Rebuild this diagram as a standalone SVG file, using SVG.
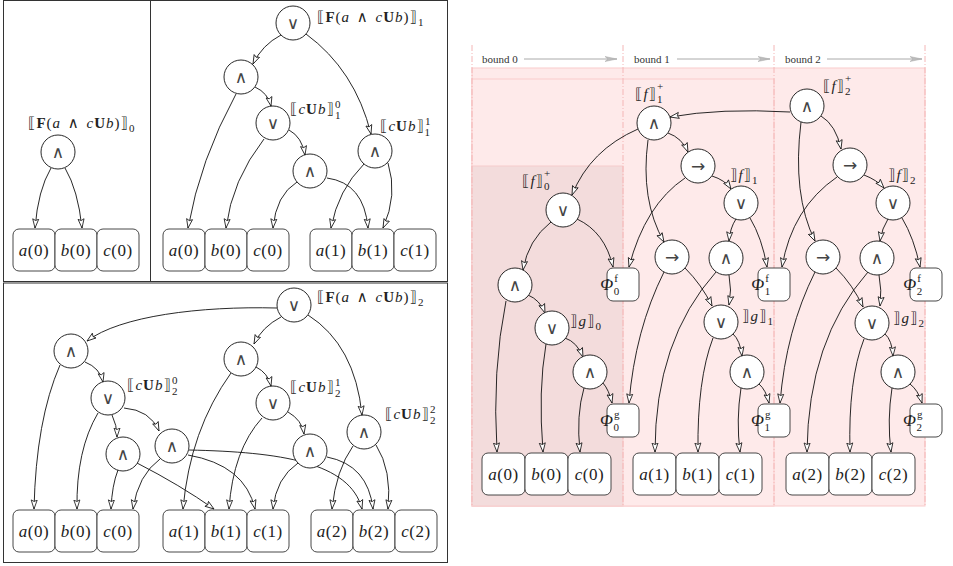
<svg xmlns="http://www.w3.org/2000/svg" width="953" height="566" viewBox="0 0 953 566">
<style>
.n circle{fill:#fff;stroke:#111;stroke-width:0.9}
.n text{font-family:"DejaVu Sans ExtraLight","DejaVu Sans","Liberation Sans",sans-serif;font-size:17px;text-anchor:middle;fill:#444}
.bx rect{fill:#fff;stroke:#333;stroke-width:0.9}
.bx text{font-family:"Liberation Serif","DejaVu Serif",serif;font-size:17px;text-anchor:middle;fill:#222;letter-spacing:0.5px}
.ph text{font-family:"Liberation Serif","DejaVu Serif",serif;font-size:17px;fill:#222}
.i{font-style:italic}
.bf{font-weight:bold}
.s{font-size:11px;font-style:normal}
.bk{font-family:"DejaVu Sans","Liberation Sans",sans-serif;font-weight:normal;fill:#333}
.lb{font-family:"Liberation Serif","DejaVu Serif",serif;font-size:15px;fill:#222;letter-spacing:1px;word-spacing:2px}
.e path{fill:none;stroke:#111;stroke-width:0.9;marker-end:url(#ah)}
.frame{fill:none;stroke:#333;stroke-width:1}
.dd{stroke:#f4b6b6;stroke-width:1;stroke-dasharray:6 2 1 2}
.bd{font-family:"Liberation Serif","DejaVu Serif",serif;font-size:11px;fill:#333}
.ba{stroke:#aaa;stroke-width:1;marker-end:url(#ga)}
</style>
<defs>
<marker id="ah" markerUnits="userSpaceOnUse" markerWidth="10" markerHeight="8" viewBox="0 0 10 8" refX="9.5" refY="4" orient="auto">
<path d="M0.5,1 L9.5,4 L0.5,7 L2,4 Z" fill="#fff" stroke="#111" stroke-width="0.8"/>
</marker>
<marker id="ga" markerUnits="userSpaceOnUse" markerWidth="12" markerHeight="6" viewBox="0 0 12 6" refX="12" refY="3" orient="auto">
<path d="M0,0.5 L12,3 L0,5.5 L3,3 Z" fill="#bbb" stroke="#aaa" stroke-width="0.5"/>
</marker>
</defs>
<rect width="953" height="566" fill="#fff"/>

<!-- frames -->
<rect class="frame" x="3.5" y="0.5" width="147" height="281"/>
<rect class="frame" x="150.5" y="0.5" width="297" height="281"/>
<rect class="frame" x="3.5" y="283" width="444" height="279.5"/>

<!-- right background -->
<rect x="472" y="68" width="453" height="438" fill="#feeaea" stroke="#f9cccc"/>
<rect x="472" y="79" width="302" height="427" fill="#feeaea" stroke="#f9cccc"/>
<rect x="472" y="166" width="151" height="340" fill="#f3dcdc" stroke="#f6cccc"/>
<line class="dd" x1="472" y1="45" x2="472" y2="506"/>
<line class="dd" x1="623" y1="45" x2="623" y2="506"/>
<line class="dd" x1="774" y1="45" x2="774" y2="506"/>
<line class="dd" x1="925" y1="45" x2="925" y2="506"/>
<text class="bd" x="482" y="63">bound 0</text>
<line class="ba" x1="524" y1="59" x2="617" y2="59"/>
<text class="bd" x="634" y="63">bound 1</text>
<line class="ba" x1="677" y1="59" x2="770" y2="59"/>
<text class="bd" x="785" y="63">bound 2</text>
<line class="ba" x1="827" y1="59" x2="922" y2="59"/>

<!-- connectors -->
<g id="connectors" class="e">
<path d="M51,168 Q38,190 35,228"/>
<path d="M65,168 Q78,190 82,228"/>
<path d="M281,35 Q262,45 253,64"/>
<path d="M306,34 Q355,70 371,134"/>
<path d="M255,87 Q268,93 271,106"/>
<path d="M236,94 Q200,160 188,228"/>
<path d="M264,139 Q232,180 226,228"/>
<path d="M289,130 Q302,137 305,155"/>
<path d="M297,182 Q276,195 273,228"/>
<path d="M327,178 Q364,183 368,228"/>
<path d="M364,164 Q338,190 331,228"/>
<path d="M388,163 Q398,195 383,228"/>
<path d="M277,308 C200,306 120,316 87,341"/>
<path d="M281,317 Q262,327 254,344"/>
<path d="M308,315 Q355,345 362,415"/>
<path d="M85,362 Q100,368 103,382"/>
<path d="M60,365 Q36,420 34,509"/>
<path d="M98,413 Q76,450 77,509"/>
<path d="M112,415 Q117,425 117,437"/>
<path d="M124,408 Q150,410 159,431"/>
<path d="M118,470 Q112,485 111,509"/>
<path d="M137,463 Q180,485 214,509"/>
<path d="M160,459 Q138,475 133,509"/>
<path d="M188,455 Q245,465 255,509"/>
<path d="M189,450 C280,452 350,462 362,509"/>
<path d="M231,373 Q190,430 183,509"/>
<path d="M256,367 Q268,373 271,386"/>
<path d="M262,418 Q233,450 229,509"/>
<path d="M288,412 Q302,420 304,434"/>
<path d="M298,463 Q276,478 273,509"/>
<path d="M327,457 Q368,465 373,509"/>
<path d="M353,446 Q336,470 332,509"/>
<path d="M376,445 Q392,470 388,509"/>
<path d="M551,222 Q528,240 523,270"/>
<path d="M577,219 Q605,232 613,267"/>
<path d="M638,129 Q590,150 572,195"/>
<path d="M528,295 Q540,300 545,313"/>
<path d="M506,301 Q492,370 497,452"/>
<path d="M546,344 Q538,390 543,452"/>
<path d="M565,338 Q577,342 583,357"/>
<path d="M584,388 Q576,415 580,452"/>
<path d="M603,383 Q609,390 612,403"/>
<path d="M668,133 Q682,138 688,152"/>
<path d="M648,140 Q640,200 664,242"/>
<path d="M685,178 Q645,205 629,267"/>
<path d="M712,176 Q725,180 731,189"/>
<path d="M736,219 Q730,228 729,241"/>
<path d="M750,218 Q762,238 767,267"/>
<path d="M664,272 Q635,330 629,403"/>
<path d="M685,268 Q702,285 712,306"/>
<path d="M729,275 Q732,290 729,305"/>
<path d="M716,272 Q655,340 655,452"/>
<path d="M713,338 Q697,380 698,452"/>
<path d="M733,334 Q740,340 742,356"/>
<path d="M741,388 Q736,420 740,452"/>
<path d="M759,384 Q766,390 769,403"/>
<path d="M790,112 Q720,108 670,117"/>
<path d="M821,116 Q836,125 841,149"/>
<path d="M801,122 Q792,195 815,241"/>
<path d="M837,177 Q792,208 782,267"/>
<path d="M864,175 Q877,180 884,188"/>
<path d="M888,219 Q882,228 880,241"/>
<path d="M902,218 Q914,238 920,267"/>
<path d="M815,272 Q786,330 780,403"/>
<path d="M836,268 Q853,285 863,307"/>
<path d="M879,275 Q882,290 880,306"/>
<path d="M868,272 Q808,340 807,452"/>
<path d="M864,339 Q848,380 850,452"/>
<path d="M885,334 Q892,340 893,356"/>
<path d="M892,388 Q887,420 891,452"/>
<path d="M910,384 Q918,390 922,403"/>
</g>

<!-- ===== top-left panel ===== -->
<g id="tl_and" class="n"><circle cx="58" cy="152" r="17"/><text x="58" y="158">∧</text></g>
<text class="lb" x="28" y="128"><tspan class="bk">⟦</tspan><tspan class="bf">F</tspan>(<tspan class="i">a</tspan> ∧ <tspan class="i">c</tspan><tspan class="bf">U</tspan><tspan class="i">b</tspan>)<tspan class="bk">⟧</tspan><tspan class="s" dy="4">0</tspan></text>
<g id="tl_a0" class="bx"><rect x="13" y="229" width="42" height="42" rx="6"/><text x="34" y="256"><tspan class="i">a</tspan>(0)</text></g>
<g id="tl_b0" class="bx"><rect x="55" y="229" width="42" height="42" rx="6"/><text x="76" y="256"><tspan class="i">b</tspan>(0)</text></g>
<g id="tl_c0" class="bx"><rect x="97" y="229" width="42" height="42" rx="6"/><text x="118" y="256"><tspan class="i">c</tspan>(0)</text></g>

<!-- ===== top-right panel ===== -->
<g id="tr_or" class="n"><circle cx="293" cy="23" r="17"/><text x="293" y="29">∨</text></g>
<text class="lb" x="317" y="22"><tspan class="bk">⟦</tspan><tspan class="bf">F</tspan>(<tspan class="i">a</tspan> ∧ <tspan class="i">c</tspan><tspan class="bf">U</tspan><tspan class="i">b</tspan>)<tspan class="bk">⟧</tspan><tspan class="s" dy="4">1</tspan></text>
<g id="tr_and1" class="n"><circle cx="241" cy="77" r="17"/><text x="241" y="83">∧</text></g>
<g id="tr_or2" class="n"><circle cx="273" cy="123" r="17"/><text x="273" y="129">∨</text></g>
<text class="lb" x="290" y="114"><tspan class="bk">⟦</tspan><tspan class="i">c</tspan><tspan class="bf">U</tspan><tspan class="i">b</tspan><tspan class="bk">⟧</tspan><tspan class="s" dy="-6">0</tspan><tspan class="s" dx="-6.5" dy="11">1</tspan></text>
<g id="tr_and3" class="n"><circle cx="310" cy="171" r="17"/><text x="310" y="177">∧</text></g>
<g id="tr_and4" class="n"><circle cx="375" cy="151" r="17"/><text x="375" y="157">∧</text></g>
<text class="lb" x="380" y="131"><tspan class="bk">⟦</tspan><tspan class="i">c</tspan><tspan class="bf">U</tspan><tspan class="i">b</tspan><tspan class="bk">⟧</tspan><tspan class="s" dy="-6">1</tspan><tspan class="s" dx="-6.5" dy="11">1</tspan></text>
<g id="tr_a0" class="bx"><rect x="163" y="229" width="42" height="42" rx="6"/><text x="184" y="256"><tspan class="i">a</tspan>(0)</text></g>
<g id="tr_b0" class="bx"><rect x="205" y="229" width="42" height="42" rx="6"/><text x="226" y="256"><tspan class="i">b</tspan>(0)</text></g>
<g id="tr_c0" class="bx"><rect x="247" y="229" width="42" height="42" rx="6"/><text x="268" y="256"><tspan class="i">c</tspan>(0)</text></g>
<g id="tr_a1" class="bx"><rect x="310" y="229" width="42" height="42" rx="6"/><text x="331" y="256"><tspan class="i">a</tspan>(1)</text></g>
<g id="tr_b1" class="bx"><rect x="352" y="229" width="42" height="42" rx="6"/><text x="373" y="256"><tspan class="i">b</tspan>(1)</text></g>
<g id="tr_c1" class="bx"><rect x="394" y="229" width="42" height="42" rx="6"/><text x="415" y="256"><tspan class="i">c</tspan>(1)</text></g>

<!-- ===== bottom panel ===== -->
<g id="bt_or" class="n"><circle cx="294" cy="305" r="17"/><text x="294" y="311">∨</text></g>
<text class="lb" x="317" y="302"><tspan class="bk">⟦</tspan><tspan class="bf">F</tspan>(<tspan class="i">a</tspan> ∧ <tspan class="i">c</tspan><tspan class="bf">U</tspan><tspan class="i">b</tspan>)<tspan class="bk">⟧</tspan><tspan class="s" dy="4">2</tspan></text>
<g id="bt_and0" class="n"><circle cx="71" cy="351" r="17"/><text x="71" y="357">∧</text></g>
<g id="bt_or0" class="n"><circle cx="108" cy="398" r="17"/><text x="108" y="404">∨</text></g>
<text class="lb" x="127" y="390"><tspan class="bk">⟦</tspan><tspan class="i">c</tspan><tspan class="bf">U</tspan><tspan class="i">b</tspan><tspan class="bk">⟧</tspan><tspan class="s" dy="-6">0</tspan><tspan class="s" dx="-6.5" dy="11">2</tspan></text>
<g id="bt_and01" class="n"><circle cx="123" cy="454" r="17"/><text x="123" y="460">∧</text></g>
<g id="bt_and02" class="n"><circle cx="172" cy="446" r="17"/><text x="172" y="452">∧</text></g>
<g id="bt_and1" class="n"><circle cx="241" cy="359" r="17"/><text x="241" y="365">∧</text></g>
<g id="bt_or1" class="n"><circle cx="273" cy="403" r="17"/><text x="273" y="409">∨</text></g>
<text class="lb" x="290" y="392"><tspan class="bk">⟦</tspan><tspan class="i">c</tspan><tspan class="bf">U</tspan><tspan class="i">b</tspan><tspan class="bk">⟧</tspan><tspan class="s" dy="-6">1</tspan><tspan class="s" dx="-6.5" dy="11">2</tspan></text>
<g id="bt_and12" class="n"><circle cx="310" cy="451" r="17"/><text x="310" y="457">∧</text></g>
<g id="bt_and2" class="n"><circle cx="364" cy="432" r="17"/><text x="364" y="438">∧</text></g>
<text class="lb" x="385" y="419"><tspan class="bk">⟦</tspan><tspan class="i">c</tspan><tspan class="bf">U</tspan><tspan class="i">b</tspan><tspan class="bk">⟧</tspan><tspan class="s" dy="-6">2</tspan><tspan class="s" dx="-6.5" dy="11">2</tspan></text>
<g id="bt_a0" class="bx"><rect x="13" y="510" width="42" height="42" rx="6"/><text x="34" y="537"><tspan class="i">a</tspan>(0)</text></g>
<g id="bt_b0" class="bx"><rect x="55" y="510" width="42" height="42" rx="6"/><text x="76" y="537"><tspan class="i">b</tspan>(0)</text></g>
<g id="bt_c0" class="bx"><rect x="97" y="510" width="42" height="42" rx="6"/><text x="118" y="537"><tspan class="i">c</tspan>(0)</text></g>
<g id="bt_a1" class="bx"><rect x="163" y="510" width="42" height="42" rx="6"/><text x="184" y="537"><tspan class="i">a</tspan>(1)</text></g>
<g id="bt_b1" class="bx"><rect x="205" y="510" width="42" height="42" rx="6"/><text x="226" y="537"><tspan class="i">b</tspan>(1)</text></g>
<g id="bt_c1" class="bx"><rect x="247" y="510" width="42" height="42" rx="6"/><text x="268" y="537"><tspan class="i">c</tspan>(1)</text></g>
<g id="bt_a2" class="bx"><rect x="311" y="510" width="42" height="42" rx="6"/><text x="332" y="537"><tspan class="i">a</tspan>(2)</text></g>
<g id="bt_b2" class="bx"><rect x="353" y="510" width="42" height="42" rx="6"/><text x="374" y="537"><tspan class="i">b</tspan>(2)</text></g>
<g id="bt_c2" class="bx"><rect x="395" y="510" width="42" height="42" rx="6"/><text x="416" y="537"><tspan class="i">c</tspan>(2)</text></g>

<!-- ===== right panel ===== -->
<g id="r_f0" class="n"><circle cx="563" cy="210" r="17"/><text x="563" y="216">∨</text></g>
<text class="lb" x="522" y="186"><tspan class="bk">⟦</tspan><tspan class="i">f</tspan><tspan class="bk">⟧</tspan><tspan class="s" dy="4">0</tspan><tspan class="s" dx="-6.5" dy="-13">+</tspan></text>
<g id="r_and0" class="n"><circle cx="515" cy="285" r="17"/><text x="515" y="291">∧</text></g>
<g id="r_g0" class="n"><circle cx="552" cy="328" r="17"/><text x="552" y="334">∨</text></g>
<text class="lb" x="570" y="326"><tspan class="bk">⟧</tspan><tspan class="i">g</tspan><tspan class="bk">⟧</tspan><tspan class="s" dy="4">0</tspan></text>
<g id="r_and0b" class="n"><circle cx="590" cy="372" r="17"/><text x="590" y="378">∧</text></g>
<g id="r_phif0" class="bx ph"><rect x="607" y="268" width="32" height="33" rx="6"/><text x="610" y="290"><tspan class="i">Φ</tspan><tspan class="s" dy="5">0</tspan><tspan class="s i" dx="-5.5" dy="-13">f</tspan></text></g>
<g id="r_phig0" class="bx ph"><rect x="607" y="404" width="32" height="33" rx="6"/><text x="610" y="426"><tspan class="i">Φ</tspan><tspan class="s" dy="5">0</tspan><tspan class="s i" dx="-5.5" dy="-13">g</tspan></text></g>
<g id="r_a0" class="bx"><rect x="482" y="453" width="43" height="42" rx="6"/><text x="503.5" y="480"><tspan class="i">a</tspan>(0)</text></g>
<g id="r_b0" class="bx"><rect x="525" y="453" width="43" height="42" rx="6"/><text x="546.5" y="480"><tspan class="i">b</tspan>(0)</text></g>
<g id="r_c0" class="bx"><rect x="568" y="453" width="43" height="42" rx="6"/><text x="589.5" y="480"><tspan class="i">c</tspan>(0)</text></g>

<g id="r_f1p" class="n"><circle cx="654" cy="123" r="17"/><text x="654" y="129">∧</text></g>
<text class="lb" x="635" y="99"><tspan class="bk">⟦</tspan><tspan class="i">f</tspan><tspan class="bk">⟧</tspan><tspan class="s" dy="4">1</tspan><tspan class="s" dx="-6.5" dy="-13">+</tspan></text>
<g id="r_imp1" class="n"><circle cx="698" cy="166" r="17"/><text x="698" y="172">→</text></g>
<g id="r_f1" class="n"><circle cx="741" cy="203" r="17"/><text x="741" y="209">∨</text></g>
<text class="lb" x="730" y="180"><tspan class="bk">⟧</tspan><tspan class="i">f</tspan><tspan class="bk">⟧</tspan><tspan class="s" dy="4">1</tspan></text>
<g id="r_imp1b" class="n"><circle cx="672" cy="257" r="17"/><text x="672" y="263">→</text></g>
<g id="r_and1" class="n"><circle cx="726" cy="258" r="17"/><text x="726" y="264">∧</text></g>
<g id="r_g1" class="n"><circle cx="721" cy="322" r="17"/><text x="721" y="328">∨</text></g>
<text class="lb" x="742" y="321"><tspan class="bk">⟧</tspan><tspan class="i">g</tspan><tspan class="bk">⟧</tspan><tspan class="s" dy="4">1</tspan></text>
<g id="r_and1b" class="n"><circle cx="747" cy="372" r="17"/><text x="747" y="378">∧</text></g>
<g id="r_phif1" class="bx ph"><rect x="758" y="268" width="32" height="33" rx="6"/><text x="761" y="290"><tspan class="i">Φ</tspan><tspan class="s" dy="5">1</tspan><tspan class="s i" dx="-5.5" dy="-13">f</tspan></text></g>
<g id="r_phig1" class="bx ph"><rect x="758" y="404" width="32" height="33" rx="6"/><text x="761" y="426"><tspan class="i">Φ</tspan><tspan class="s" dy="5">1</tspan><tspan class="s i" dx="-5.5" dy="-13">g</tspan></text></g>
<g id="r_a1" class="bx"><rect x="633" y="453" width="43" height="42" rx="6"/><text x="654.5" y="480"><tspan class="i">a</tspan>(1)</text></g>
<g id="r_b1" class="bx"><rect x="676" y="453" width="43" height="42" rx="6"/><text x="697.5" y="480"><tspan class="i">b</tspan>(1)</text></g>
<g id="r_c1" class="bx"><rect x="719" y="453" width="43" height="42" rx="6"/><text x="740.5" y="480"><tspan class="i">c</tspan>(1)</text></g>

<g id="r_f2p" class="n"><circle cx="807" cy="106" r="17"/><text x="807" y="112">∧</text></g>
<text class="lb" x="823" y="91"><tspan class="bk">⟦</tspan><tspan class="i">f</tspan><tspan class="bk">⟧</tspan><tspan class="s" dy="4">2</tspan><tspan class="s" dx="-6.5" dy="-13">+</tspan></text>
<g id="r_imp2" class="n"><circle cx="850" cy="165" r="17"/><text x="850" y="171">→</text></g>
<g id="r_f2" class="n"><circle cx="893" cy="203" r="17"/><text x="893" y="209">∨</text></g>
<text class="lb" x="888" y="180"><tspan class="bk">⟧</tspan><tspan class="i">f</tspan><tspan class="bk">⟧</tspan><tspan class="s" dy="4">2</tspan></text>
<g id="r_imp2b" class="n"><circle cx="823" cy="257" r="17"/><text x="823" y="263">→</text></g>
<g id="r_and2" class="n"><circle cx="877" cy="258" r="17"/><text x="877" y="264">∧</text></g>
<g id="r_g2" class="n"><circle cx="872" cy="323" r="17"/><text x="872" y="329">∨</text></g>
<text class="lb" x="893" y="323"><tspan class="bk">⟧</tspan><tspan class="i">g</tspan><tspan class="bk">⟧</tspan><tspan class="s" dy="4">2</tspan></text>
<g id="r_and2b" class="n"><circle cx="898" cy="372" r="17"/><text x="898" y="378">∧</text></g>
<g id="r_phif2" class="bx ph"><rect x="910" y="268" width="32" height="33" rx="6"/><text x="913" y="290"><tspan class="i">Φ</tspan><tspan class="s" dy="5">2</tspan><tspan class="s i" dx="-5.5" dy="-13">f</tspan></text></g>
<g id="r_phig2" class="bx ph"><rect x="910" y="404" width="32" height="33" rx="6"/><text x="913" y="426"><tspan class="i">Φ</tspan><tspan class="s" dy="5">2</tspan><tspan class="s i" dx="-5.5" dy="-13">g</tspan></text></g>
<g id="r_a2" class="bx"><rect x="786" y="453" width="43" height="42" rx="6"/><text x="807.5" y="480"><tspan class="i">a</tspan>(2)</text></g>
<g id="r_b2" class="bx"><rect x="829" y="453" width="43" height="42" rx="6"/><text x="850.5" y="480"><tspan class="i">b</tspan>(2)</text></g>
<g id="r_c2" class="bx"><rect x="872" y="453" width="43" height="42" rx="6"/><text x="893.5" y="480"><tspan class="i">c</tspan>(2)</text></g>
</svg>
